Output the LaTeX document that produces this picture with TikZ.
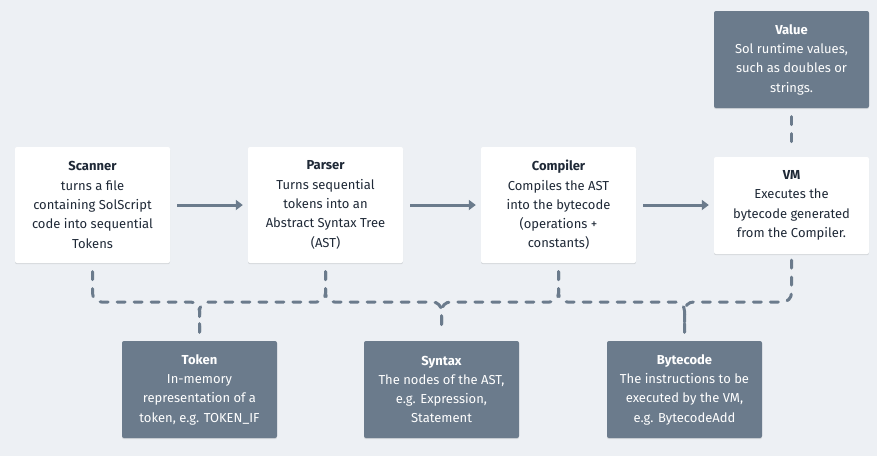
\documentclass[tikz,border=0pt]{standalone}
\usepackage{fontspec}
\setmainfont{Fira Sans}
\usetikzlibrary{arrows.meta,shadows}
\definecolor{bg}{HTML}{EDF0F4}
\definecolor{slate}{HTML}{6B7B8C}
\definecolor{ink}{HTML}{1F2937}
\tikzset{
  box/.style={rectangle, rounded corners=2pt, minimum width=155pt, minimum height=116pt,
    align=center, inner sep=0pt, font=\fontsize{13}{19.3}\selectfont,
    drop shadow={shadow xshift=0pt, shadow yshift=-1.2pt, opacity=0.10, fill=black}},
  lightbox/.style={box, fill=white, text=ink},
  darkbox/.style={box, fill=slate, text=white, minimum height=97pt},
  flow/.style={line width=3pt, draw=slate, -{Triangle[length=7pt,width=10pt]}, shorten <=7pt, shorten >=5pt},
  dep/.style={line width=3pt, draw=slate, line cap=round, dash pattern=on 8pt off 9pt,
    rounded corners=9pt, shorten <=8.5pt, shorten >=8.5pt}
}
\begin{document}
\begin{tikzpicture}[x=1pt,y=-1pt]
\fill[bg] (0,0) rectangle (877,456);
\useasboundingbox (0,0) rectangle (877,456);

\node[lightbox] (scanner) at (92.5,205) {\textbf{Scanner}\\turns a file\\containing SolScript\\code into sequential\\Tokens};
\node[lightbox] (parser) at (325.5,205) {\textbf{Parser}\\Turns sequential\\tokens into an\\Abstract Syntax Tree\\(AST)};
\node[lightbox] (compiler) at (558.5,205) {\textbf{Compiler}\\Compiles the AST\\into the bytecode\\(operations +\\constants)};
\node[lightbox, minimum height=97pt] (vm) at (791.5,205.5) {\textbf{VM}\\Executes the\\bytecode generated\\from the Compiler.};
\node[darkbox] (value) at (791.5,59.5) {\textbf{Value}\\Sol runtime values,\\such as doubles or\\strings.};
\node[darkbox] (token) at (199.5,389.5) {\textbf{Token}\\In-memory\\representation of a\\token, e.g. TOKEN\_IF};
\node[darkbox] (syntax) at (441.5,389.5) {\textbf{Syntax}\\The nodes of the AST,\\e.g. Expression,\\Statement};
\node[darkbox] (bytecode) at (684.5,389.5) {\textbf{Bytecode}\\The instructions to be\\executed by the VM,\\e.g. BytecodeAdd};

\coordinate (bus) at (0,302);

\draw[flow] (scanner) -- (parser);
\draw[flow] (parser) -- (compiler);
\draw[flow] (compiler.east) -- (compiler.east -| vm.west);

\draw[dep] (value) -- (vm);
\draw[dep] (scanner.south) -- (scanner.south |- bus) -- (token.north |- bus) -- (token.north);
\draw[dep] (parser.south) -- (parser.south |- bus) -- (token.north |- bus) -- (token.north);
\draw[dep] (parser.south) -- (parser.south |- bus) -- (syntax.north |- bus) -- (syntax.north);
\draw[dep] (compiler.south) -- (compiler.south |- bus) -- (syntax.north |- bus) -- (syntax.north);
\draw[dep] (compiler.south) -- (compiler.south |- bus) -- (bytecode.north |- bus) -- (bytecode.north);
\draw[dep, shorten <=6pt] (vm.south) -- (vm.south |- bus) -- (bytecode.north |- bus) -- (bytecode.north);
\end{tikzpicture}
\end{document}
